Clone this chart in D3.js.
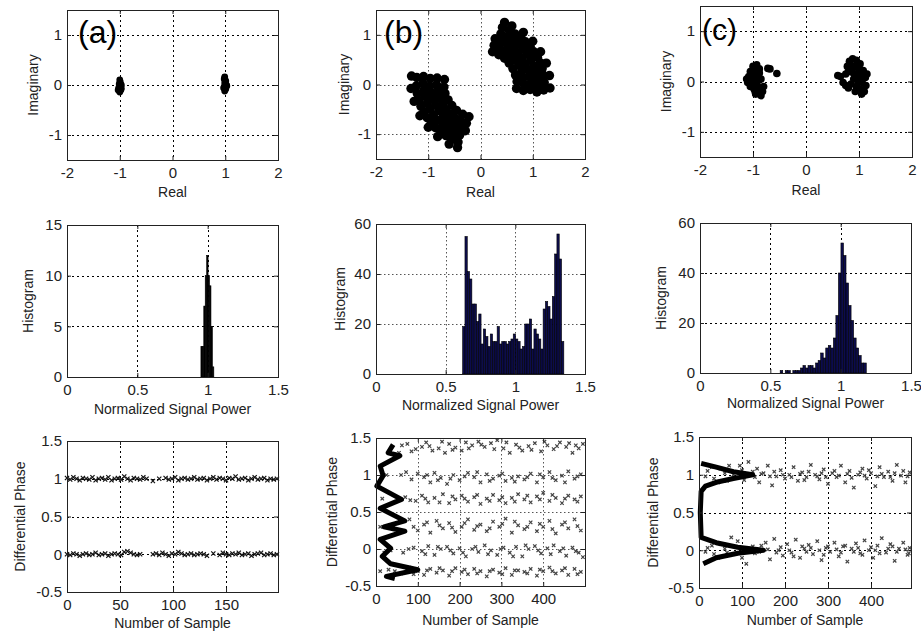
<!DOCTYPE html>
<meta charset="utf-8">
<title>Constellation, signal power and differential phase</title>
<style>
body { margin: 0; background: #fff; }
svg { display: block; font-family: "Liberation Sans", Arial, sans-serif; }
</style>
<body>
<script src="https://cdn.jsdelivr.net/npm/d3@7"></script>
<script>

// ---- tick labels
var realTicks = [-2, -1, 0, 1, 2];
var imagTicks = [-1, 0, 1];
var powerTicks = [0, 0.5, 1, 1.5];
var histTicksA = [0, 5, 10, 15];
var histTicksBC = [0, 20, 40, 60];
var phaseTicks = [-0.5, 0, 0.5, 1, 1.5];
var sampleTicksA = [0, 50, 100, 150];
var sampleTicksBC = [0, 100, 200, 300, 400];

// ---- row 1: constellations [real, imag]
var constA = [[-1.0,-0.14],[-0.98,-0.1],[-1.02,-0.06],[-0.98,-0.02],[-1.01,0.02],[-0.99,0.06],[-1.0,0.1],
  [-0.97,0.0],[-1.03,-0.1],[-0.97,-0.07],
  [0.99,-0.12],[1.01,-0.08],[0.98,-0.04],[1.02,0.0],[0.99,0.04],[1.01,0.08],[0.98,0.12],[0.99,0.16],
  [0.97,-0.06],[1.03,-0.02]];

var constB = [
  // upper right arc
  [0.69,-0.08],[0.7,0.06],[0.67,0.19],[0.62,0.32],[0.55,0.43],[0.46,0.53],[0.35,0.6],[0.23,0.66],
  [0.82,-0.12],[0.83,0.01],[0.82,0.14],[0.79,0.27],[0.73,0.39],[0.66,0.5],[0.58,0.6],[0.48,0.68],[0.36,0.75],[0.26,0.79],
  [0.95,-0.1],[0.96,0.03],[0.94,0.17],[0.91,0.3],[0.86,0.42],[0.8,0.54],[0.71,0.64],[0.62,0.73],[0.51,0.81],[0.39,0.88],[0.28,0.92],
  [1.08,-0.15],[1.09,-0.02],[1.08,0.11],[1.06,0.25],[1.02,0.37],[0.97,0.5],[0.9,0.61],[0.82,0.72],[0.73,0.81],[0.62,0.89],[0.51,0.96],[0.39,1.02],
  [1.21,-0.11],[1.22,0.04],[1.2,0.19],[1.18,0.32],[1.14,0.44],[1.09,0.55],[1.02,0.66],[0.95,0.77],[0.86,0.86],[0.77,0.95],[0.66,1.02],[0.55,1.09],[0.42,1.15],
  [1.33,-0.07],[1.32,0.18],[1.26,0.43],[1.15,0.66],[1.0,0.87],[0.82,1.05],[0.6,1.18],[0.46,1.25],
  // lower left arc
  [-0.69,0.1],[-0.7,-0.05],[-0.68,-0.18],[-0.62,-0.31],[-0.55,-0.42],[-0.46,-0.52],[-0.34,-0.6],[-0.22,-0.65],
  [-0.83,0.13],[-0.84,-0.01],[-0.82,-0.15],[-0.78,-0.27],[-0.72,-0.4],[-0.66,-0.51],[-0.57,-0.6],[-0.47,-0.69],[-0.36,-0.75],[-0.27,-0.78],
  [-0.96,0.12],[-0.97,-0.03],[-0.95,-0.16],[-0.91,-0.29],[-0.86,-0.42],[-0.79,-0.53],[-0.71,-0.65],[-0.61,-0.74],[-0.5,-0.82],[-0.39,-0.87],[-0.29,-0.93],
  [-1.09,0.16],[-1.1,0.02],[-1.08,-0.11],[-1.06,-0.24],[-1.02,-0.38],[-0.97,-0.49],[-0.9,-0.61],[-0.82,-0.72],[-0.72,-0.82],[-0.62,-0.9],[-0.51,-0.97],[-0.4,-1.02],
  [-1.22,0.14],[-1.23,-0.03],[-1.21,-0.18],[-1.18,-0.32],[-1.14,-0.44],[-1.08,-0.56],[-1.02,-0.67],[-0.94,-0.77],[-0.86,-0.87],[-0.76,-0.95],[-0.66,-1.03],[-0.55,-1.1],[-0.43,-1.16],
  [-1.32,0.17],[-1.33,-0.08],[-1.27,-0.34],[-1.16,-0.63],[-1.0,-0.86],[-0.82,-1.05],[-0.6,-1.2],[-0.44,-1.27]
];

var constC = [
  [-1.08,0.1],[-1.05,0.2],[-1.0,0.3],[-0.93,0.33],[-0.88,0.25],[-0.95,0.18],[-1.02,0.05],[-0.97,0.0],
  [-0.9,0.1],[-0.85,0.05],[-1.1,-0.02],[-1.05,-0.1],[-0.98,-0.15],[-0.92,-0.08],[-0.87,-0.15],[-0.95,-0.25],
  [-0.85,-0.28],[-0.82,-0.2],[-1.0,0.12],[-0.93,-0.03],[-0.88,0.17],[-1.12,0.05],[-0.96,-0.2],[-0.8,-0.1],
  [-0.72,0.26],[-0.68,0.25],[-0.55,0.16],
  [0.82,0.4],[0.88,0.45],[0.95,0.42],[1.02,0.35],[0.85,0.3],[0.93,0.3],[1.0,0.25],[1.08,0.22],[0.8,0.2],
  [0.88,0.18],[0.96,0.15],[1.05,0.1],[1.12,0.08],[0.9,0.05],[0.98,0.02],[1.06,-0.02],[1.13,-0.08],
  [0.95,-0.1],[1.02,-0.15],[1.1,-0.2],[1.05,-0.25],[0.93,-0.2],[0.75,0.15],[0.65,0.1],[0.6,0.12],
  [0.7,-0.02],[0.75,-0.08],[0.8,-0.13],[0.85,-0.05],[1.15,0.15],[0.78,0.3]
];

// ---- row 2: histograms of normalized signal power (bin start, bin width, counts)
var histStartA = 0.952, histWidthA = 0.0102;
var histCountsA = [3, 3, 7, 10, 12, 10, 9, 5, 1];
var histStartB = 0.622, histWidthB = 0.0165;
var histCountsB = [19,55,41,38,28,28,21,24,12,18,15,11,16,13,13,19,12,13,13,12,13,14,16,14,13,10,11,20,
  20,22,10,18,16,14,10,26,29,27,22,31,48,56,46,13];
var histStartC = 0.57, histWidthC = 0.018;
var histCountsC = [1,0,1,1,0,1,1,1,2,3,2,3,3,2,4,5,8,6,10,11,10,14,23,40,52,47,36,27,21,14,10,7,4,4];

// ---- row 3: differential phase
// (a) one value every 3rd sample, null where no point
var phaseStepA = 3;
var phaseA1 = [1.01,0.99,1.02,1.0,0.98,1.01,1.0,0.99,1.02,0.98, 1.0,1.01,0.99,1.02,0.98,1.0,1.01,0.99,1.03,1.0,
  0.98,1.01,1.0,0.99,1.02,1.0,null,0.97,null,1.0, null,1.01,0.99,1.0,1.02,0.98,1.0,1.01,0.99,1.0,
  1.02,0.99,1.0,1.01,0.98,1.0,1.02,0.99,1.01,1.0, 0.98,1.01,1.0,1.03,0.99,1.0,1.01,0.98,1.0,1.02,
  0.99,1.0,1.01,0.98,1.0,0.99,1.0];
var phaseA0 = [0.0,-0.01,0.01,0.0,-0.02,0.0,0.01,-0.01,0.0,0.02, -0.01,0.0,0.01,-0.02,0.0,0.01,0.0,-0.01,0.03,0.04,
  0.02,0.0,-0.01,0.0,null,null,null,0.0,0.01,-0.01, 0.02,0.0,-0.02,0.01,0.0,0.03,0.01,-0.01,0.0,0.01,
  -0.01,0.0,0.01,0.0,-0.02,null,0.01,null,-0.01,0.02, 0.0,-0.01,0.01,0.0,0.02,-0.01,0.0,0.01,-0.02,0.0,
  0.01,0.02,-0.01,0.0,0.01,-0.01,0.0];

// (b) [sample, phase]
var phaseB = [
  [55,1.3],[75,1.42],[95,1.35],[110,1.38],[120,1.44],[135,1.33],[150,1.36],[165,1.3],[175,1.42],[190,1.37],
  [205,1.33],[215,1.44],[230,1.4],[245,1.45],[260,1.38],[275,1.43],[290,1.47],[305,1.36],[320,1.3],[335,1.41],
  [350,1.33],[365,1.39],[380,1.43],[395,1.32],[410,1.4],[425,1.35],[440,1.44],[455,1.38],[470,1.3],[485,1.36],[495,1.42],
  [62,1.4],[85,1.32],[128,1.39],[158,1.45],[183,1.34],[222,1.36],[252,1.41],[283,1.35],[312,1.44],[343,1.37],
  [372,1.34],[403,1.45],[433,1.39],[462,1.43],[478,1.4],
  [25,1.0],[60,1.0],[85,0.94],[100,1.02],[115,0.97],[130,0.9],[140,1.03],[155,0.96],[170,0.88],[185,1.0],[200,0.93],
  [220,1.03],[235,0.97],[250,0.9],[265,1.01],[280,0.95],[295,0.99],[310,0.92],[325,0.96],[340,0.98],[355,0.94],
  [370,1.02],[385,0.9],[400,0.97],[415,1.04],[430,0.93],[445,0.99],[460,1.05],[475,0.95],[490,1.01],
  [72,1.04],[122,1.0],[148,0.93],[178,0.95],[212,0.98],[242,1.04],[272,0.92],[302,1.02],[332,0.91],[362,0.97],
  [392,1.01],[422,0.96],[452,0.9],[482,0.98],
  [15,0.68],[70,0.7],[95,0.65],[110,0.72],[125,0.63],[140,0.69],[160,0.74],[175,0.62],[190,0.67],[205,0.72],
  [220,0.64],[235,0.7],[250,0.61],[265,0.68],[280,0.73],[295,0.66],[310,0.62],[325,0.69],[340,0.74],[355,0.67],
  [370,0.63],[385,0.71],[400,0.76],[415,0.65],[430,0.69],[445,0.62],[460,0.72],[475,0.67],[490,0.71],
  [82,0.66],[118,0.68],[152,0.63],[183,0.71],[212,0.68],[242,0.73],[272,0.65],[302,0.7],[332,0.64],[362,0.72],
  [392,0.67],[422,0.73],[452,0.68],[482,0.64],
  [10,0.3],[40,0.32],[80,0.4],[100,0.25],[115,0.33],[130,0.22],[145,0.38],[160,0.28],[175,0.35],[190,0.23],
  [205,0.3],[220,0.4],[235,0.26],[250,0.33],[265,0.24],[280,0.37],[295,0.3],[310,0.41],[325,0.22],[340,0.32],
  [355,0.27],[370,0.36],[385,0.24],[400,0.3],[415,0.38],[430,0.21],[445,0.33],[460,0.28],[475,0.4],[490,0.25],
  [90,0.3],[122,0.36],[152,0.32],[182,0.29],[212,0.35],[242,0.31],[272,0.28],[302,0.34],[332,0.37],[362,0.3],
  [392,0.34],[422,0.27],[452,0.36],[482,0.31],
  [20,-0.05],[35,-0.02],[65,-0.05],[90,0.02],[110,-0.03],[125,0.04],[140,-0.08],[155,0.0],[170,0.03],[185,-0.06],
  [200,0.01],[215,-0.1],[230,0.0],[245,-0.04],[260,0.05],[275,-0.02],[290,-0.08],[305,0.02],[320,-0.05],[335,0.03],
  [350,-0.1],[365,0.0],[380,0.04],[395,-0.06],[410,0.01],[425,0.05],[440,-0.03],[455,-0.09],[470,0.02],[485,-0.05],[495,-0.11],
  [78,0.0],[118,-0.07],[148,0.03],[178,-0.02],[208,-0.05],[238,0.03],[268,-0.07],[298,0.0],[328,-0.1],[358,0.05],
  [388,-0.02],[418,-0.07],[448,0.01],[478,-0.03],
  [10,-0.3],[30,-0.28],[60,-0.33],[80,-0.25],[100,-0.3],[115,-0.35],[130,-0.27],[145,-0.32],[160,-0.29],[175,-0.36],
  [190,-0.26],[205,-0.31],[220,-0.34],[235,-0.27],[250,-0.3],[265,-0.37],[280,-0.28],[295,-0.32],[310,-0.26],[325,-0.35],
  [340,-0.29],[355,-0.31],[370,-0.27],[385,-0.36],[400,-0.3],[415,-0.25],[430,-0.33],[445,-0.29],[460,-0.35],[475,-0.27],[490,-0.31],
  [45,-0.3],[90,-0.34],[122,-0.29],[152,-0.26],[182,-0.3],[212,-0.28],[242,-0.33],[272,-0.3],[302,-0.34],[332,-0.29],
  [362,-0.33],[392,-0.28],[422,-0.3],[452,-0.26],[482,-0.34]
];
var phaseCurveB = [[45,-0.4],[25,-0.37],[100,-0.28],[35,-0.2],[15,-0.1],[35,0.01],[10,0.13],[69,0.24],[19,0.3],
  [69,0.38],[10,0.55],[61,0.67],[2,0.85],[17,0.99],[10,1.12],[57,1.26],[29,1.3],[41,1.41]];

// (c) [sample, phase]
var phaseC = [
  [20,1.05],[35,0.95],[50,1.08],[65,0.92],[80,1.0],[95,1.12],[105,0.93],[115,1.17],[125,1.04],[140,0.9],
  [150,1.02],[160,1.12],[170,0.86],[180,0.98],[190,1.06],[200,0.95],[210,1.0],[220,1.1],[230,0.92],[240,1.03],
  [250,0.97],[260,1.13],[270,1.0],[280,0.94],[290,1.07],[300,0.88],[310,1.02],[320,0.97],[330,1.12],[340,0.9],
  [350,1.05],[360,0.83],[370,1.0],[380,1.08],[390,0.95],[400,1.02],[410,0.85],[420,1.1],[430,0.97],[440,1.04],
  [450,0.92],[460,1.13],[470,0.99],[480,0.9],[490,1.03],
  [15,0.98],[30,1.1],[45,0.9],[60,1.02],[70,1.12],[85,0.96],[100,1.06],[110,1.0],[130,0.97],[135,1.08],
  [145,1.01],[165,0.98],[175,1.04],[195,1.0],[215,0.97],[235,1.01],[245,0.93],[255,1.04],[275,0.98],[285,1.02],
  [295,0.97],[315,1.05],[325,0.99],[345,1.01],[355,0.96],[375,1.03],[385,0.99],[395,1.06],[415,0.98],[425,1.01],
  [445,0.97],[455,1.02],[475,1.05],[485,0.98],
  [20,0.03],[35,-0.05],[50,0.08],[65,-0.03],[75,0.17],[90,0.12],[100,-0.1],[110,-0.18],[125,0.05],[140,-0.02],
  [155,0.1],[165,-0.12],[175,0.15],[185,0.0],[195,-0.07],[205,0.08],[215,-0.03],[225,0.14],[235,-0.1],[245,0.02],
  [255,0.07],[265,-0.05],[275,0.12],[285,-0.13],[295,0.03],[305,-0.02],[315,0.1],[325,-0.08],[335,0.05],[345,-0.15],
  [355,0.02],[365,0.09],[375,-0.04],[385,0.13],[395,0.0],[405,-0.1],[415,0.06],[425,0.16],[435,-0.03],[445,0.08],
  [455,-0.14],[465,0.02],[475,0.1],[485,-0.06],[490,0.03],
  [15,-0.02],[30,0.06],[45,-0.1],[60,0.02],[80,-0.05],[95,0.03],[115,0.0],[130,-0.04],[145,0.06],[160,0.01],
  [180,-0.03],[190,0.04],[210,0.0],[220,-0.08],[240,0.05],[250,-0.02],[260,0.03],[280,0.0],[290,-0.06],[300,0.05],
  [320,0.01],[330,-0.03],[340,0.06],[360,-0.02],[370,0.03],[380,-0.06],[400,0.04],[410,0.0],[420,-0.04],[440,0.02],
  [450,0.05],[460,-0.02],[480,0.01],[488,-0.04]
];
var phaseCurveC = [[10,-0.18],[40,-0.1],[90,-0.04],[150,0.0],[90,0.04],[40,0.1],[5,0.17],[3,0.5],[5,0.78],
  [15,0.85],[40,0.9],[80,0.95],[125,1.0],[80,1.04],[40,1.1],[5,1.15]];

var width = 921, height = 635;
var svg = d3.select('body').append('svg').attr('width', width).attr('height', height);

var gridDark = { color: '#000', dash: '2,3' };
var gridLight = { color: '#555', dash: '1.5,2.5' };

// one MATLAB-style axes box, returns scales and a group for the marks
function panel(box, xDom, yDom, xTicks, yTicks, grid) {
  var x = d3.scaleLinear().domain(xDom).range([box.l, box.r]);
  var y = d3.scaleLinear().domain(yDom).range([box.b, box.t]);
  var g = svg.append('g');

  var gg = g.append('g').attr('stroke', grid.color).attr('stroke-dasharray', grid.dash).attr('stroke-width', 1);
  gg.selectAll('.gx').data(xTicks.filter(function(d){ return d > xDom[0] && d < xDom[1]; }))
    .enter().append('line')
      .attr('x1', function(d){ return Math.round(x(d)) + 0.5; })
      .attr('x2', function(d){ return Math.round(x(d)) + 0.5; })
      .attr('y1', box.t).attr('y2', box.b);
  gg.selectAll('.gy').data(yTicks.filter(function(d){ return d > yDom[0] && d < yDom[1]; }))
    .enter().append('line')
      .attr('y1', function(d){ return Math.round(y(d)) + 0.5; })
      .attr('y2', function(d){ return Math.round(y(d)) + 0.5; })
      .attr('x1', box.l).attr('x2', box.r);

  var marks = g.append('g');

  var fmt = function(d){ return String(d); };
  g.append('g').attr('transform', 'translate(0,' + box.b + ')')
    .call(d3.axisBottom(x).tickValues(xTicks).tickSize(-4).tickPadding(7).tickFormat(fmt));
  g.append('g').attr('transform', 'translate(' + box.l + ',0)')
    .call(d3.axisLeft(y).tickValues(yTicks).tickSize(-4).tickPadding(5).tickFormat(fmt));
  g.append('g').attr('transform', 'translate(0,' + box.t + ')')
    .call(d3.axisTop(x).tickValues(xTicks).tickSize(-4).tickFormat(''));
  g.append('g').attr('transform', 'translate(' + box.r + ',0)')
    .call(d3.axisRight(y).tickValues(yTicks).tickSize(-4).tickFormat(''));
  g.selectAll('.domain').remove();
  g.selectAll('.tick line').attr('stroke', '#222');
  g.selectAll('.tick text').attr('font-size', 15).attr('fill', '#222')
    .attr('font-family', '"Liberation Sans", Arial, sans-serif');

  g.append('rect')
    .attr('x', box.l + 0.5).attr('y', box.t + 0.5)
    .attr('width', box.r - box.l).attr('height', box.b - box.t)
    .attr('fill', 'none').attr('stroke', '#222');

  return { x: x, y: y, marks: marks, box: box };
}

function labels(p, xText, xBase, yText, yCx) {
  svg.append('text').attr('x', (p.box.l + p.box.r) / 2).attr('y', xBase)
    .attr('text-anchor', 'middle').attr('font-size', 14).attr('fill', '#222').text(xText);
  svg.append('text')
    .attr('transform', 'translate(' + yCx + ',' + (p.box.t + p.box.b) / 2 + ') rotate(-90)')
    .attr('text-anchor', 'middle').attr('dy', '0.35em').attr('font-size', 14).attr('fill', '#222').text(yText);
}

function dots(p, pts, r) {
  p.marks.selectAll('circle').data(pts).enter().append('circle')
    .attr('cx', function(d){ return p.x(d[0]); })
    .attr('cy', function(d){ return p.y(d[1]); })
    .attr('r', r).attr('fill', '#000');
}

function bars(p, start, w, counts, fill) {
  p.marks.selectAll('rect').data(counts).enter().append('rect')
    .attr('x', function(d, i){ return p.x(start + i * w); })
    .attr('width', function(d, i){ return p.x(start + (i + 1) * w) - p.x(start + i * w); })
    .attr('y', function(d){ return p.y(d); })
    .attr('height', function(d){ return p.y(0) - p.y(d); })
    .attr('fill', fill).attr('stroke', '#000').attr('stroke-width', 0.6);
}

function crosses(p, pts, color, s, sw) {
  p.marks.append('g').attr('stroke', color).attr('stroke-width', sw).attr('fill', 'none')
    .selectAll('path').data(pts).enter().append('path')
      .attr('d', function(d){
        var cx = p.x(d[0]), cy = p.y(d[1]);
        return 'M' + (cx - s) + ',' + (cy - s) + 'L' + (cx + s) + ',' + (cy + s) +
               'M' + (cx + s) + ',' + (cy - s) + 'L' + (cx - s) + ',' + (cy + s);
      });
}

function curve(p, pts, w) {
  p.marks.append('path').datum(pts)
    .attr('d', d3.line().x(function(d){ return p.x(d[0]); }).y(function(d){ return p.y(d[1]); }))
    .attr('fill', 'none').attr('stroke', '#000').attr('stroke-width', w).attr('stroke-linejoin', 'round');
}

function tag(txt, x, y, size) {
  svg.append('text').attr('x', x).attr('y', y).attr('font-size', size).attr('fill', '#000').text(txt);
}

// ---- row 1
var c1 = panel({ l: 67, r: 278, t: 10, b: 160 }, [-2, 2], [-1.5, 1.5], realTicks, imagTicks, gridDark);
dots(c1, constA, 3.4);
labels(c1, 'Real', 197, 'Imaginary', 33);
tag('(a)', 78, 43, 32);

var c2 = panel({ l: 376, r: 585, t: 10, b: 159 }, [-2, 2], [-1.5, 1.5], realTicks, imagTicks, gridLight);
dots(c2, constB, 4.7);
labels(c2, 'Real', 197, 'Imaginary', 344);
tag('(b)', 384, 43, 32);

var c3 = panel({ l: 700, r: 912, t: 6, b: 157 }, [-2, 2], [-1.5, 1.5], realTicks, imagTicks, gridDark);
dots(c3, constC, 3.8);
labels(c3, 'Real', 195, 'Imaginary', 666);
tag('(c)', 702, 40, 30);

// ---- row 2
var h1 = panel({ l: 67, r: 278, t: 225, b: 377 }, [0, 1.5], [0, 15], powerTicks, histTicksA, gridDark);
bars(h1, histStartA, histWidthA, histCountsA, '#000');
labels(h1, 'Normalized Signal Power', 414, 'Histogram', 28);

var h2 = panel({ l: 376, r: 585, t: 224, b: 374 }, [0, 1.5], [0, 60], powerTicks, histTicksBC, gridLight);
bars(h2, histStartB, histWidthB, histCountsB, '#0c0c4c');
labels(h2, 'Normalized Signal Power', 410, 'Histogram', 340);

var h3 = panel({ l: 700, r: 911, t: 223, b: 373 }, [0, 1.5], [0, 60], powerTicks, histTicksBC, gridDark);
bars(h3, histStartC, histWidthC, histCountsC, '#0c0c4c');
labels(h3, 'Normalized Signal Power', 408, 'Histogram', 661);

// ---- row 3
var p1 = panel({ l: 67, r: 278, t: 441, b: 592 }, [0, 199], [-0.5, 1.5], sampleTicksA, phaseTicks, gridDark);
var ptsA = [];
phaseA1.forEach(function(v, i){ if (v !== null) ptsA.push([i * phaseStepA, v]); });
phaseA0.forEach(function(v, i){ if (v !== null) ptsA.push([i * phaseStepA, v]); });
crosses(p1, ptsA, '#111', 2.1, 1.2);
labels(p1, 'Number of Sample', 628, 'Differential Phase', 20);

var p2 = panel({ l: 376, r: 585, t: 438, b: 586 }, [0, 500], [-0.5, 1.5], sampleTicksBC, phaseTicks, gridLight);
crosses(p2, phaseB, '#444', 1.7, 1.2);
curve(p2, phaseCurveB, 5);
labels(p2, 'Number of Sample', 625, 'Differential Phase', 332);

var p3 = panel({ l: 699, r: 911, t: 437, b: 588 }, [0, 493], [-0.5, 1.5], sampleTicksBC, phaseTicks, gridDark);
crosses(p3, phaseC, '#444', 1.7, 1.2);
curve(p3, phaseCurveC, 5);
labels(p3, 'Number of Sample', 625, 'Differential Phase', 653);

</script>
